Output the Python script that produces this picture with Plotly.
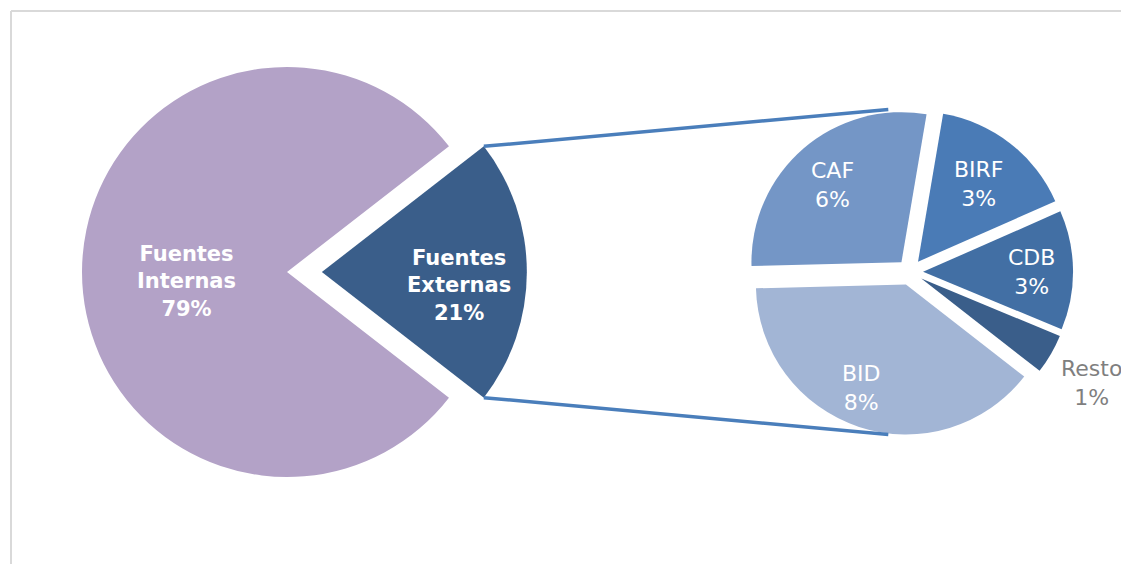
import math
import plotly.graph_objects as go

W, H = 1129, 564
OFF = 8  # page body margin offset of the rendered figure

# ---- data ----
outer_labels = ["Fuentes Externas", "Fuentes Internas"]
outer_values = [21, 79]
outer_colors = ["#3A5E8A", "#B3A2C7"]

inner_labels = ["CAF", "BIRF", "CDB", "Resto", "BID"]
inner_values = [5.9, 3.3, 2.7, 0.9, 8.2]
inner_colors = ["#7496C6", "#4A7BB6", "#426FA4", "#3A5E8A", "#A2B5D5"]

# ---- layout geometry (screen pixels) ----
L_CX, L_CY, L_R, L_PULL = 287, 272, 205, 0.17
R_CX, R_CY, R_R, R_PULL = 910, 272, 150, 0.087
R_ROT = 268.5


def px(x):
    return (x - OFF) / W


def py(y):
    return 1 - (y - OFF) / H


def domain(cx, cy, r, pull):
    half = r * (1 + pull)
    return dict(x=[px(cx - half), px(cx + half)], y=[py(cy + half), py(cy - half)])


ext_share = outer_values[0] / sum(outer_values)
l_rot = 90 - 360 * ext_share / 2

fig = go.Figure()
fig.add_trace(go.Pie(
    labels=outer_labels, values=outer_values, sort=False, direction="clockwise",
    rotation=l_rot, pull=[L_PULL, 0], domain=domain(L_CX, L_CY, L_R, L_PULL),
    marker=dict(colors=outer_colors, line=dict(width=0)),
    textinfo="none", hoverinfo="skip", showlegend=False,
))

fig.add_trace(go.Pie(
    labels=inner_labels, values=inner_values, sort=False, direction="clockwise",
    rotation=R_ROT, pull=[R_PULL] * len(inner_values),
    domain=domain(R_CX, R_CY, R_R, R_PULL),
    marker=dict(colors=inner_colors, line=dict(width=0)),
    textinfo="none", hoverinfo="skip", showlegend=False,
))


def slice_geom(values, rot):
    """Return list of (start, end) angles (deg, clockwise from 12 o'clock)."""
    tot = sum(values)
    out, a = [], rot
    for v in values:
        span = 360 * v / tot
        out.append((a, a + span))
        a += span
    return out


def polar(cx, cy, r, ang):
    t = math.radians(ang)
    return cx + r * math.sin(t), cy - r * math.cos(t)


# ---- outer labels (bold, white) ----
outer_pulls = [L_PULL, 0]
outer_lab_pos = [(0.67, 0, 13), (0.49, 0, 9)]  # (radial fraction, angle tweak, dy)
for (s, e), lab, v, pl, (fr, da, dy) in zip(slice_geom(outer_values, l_rot), outer_labels,
                                             outer_values, outer_pulls, outer_lab_pos):
    mid = (s + e) / 2
    ax, ay = polar(L_CX, L_CY, pl * L_R, mid)
    x, y = polar(ax, ay, fr * L_R, mid + da)
    fig.add_annotation(x=px(x), y=py(y + dy), xref="paper", yref="paper",
                       text=f"{lab.replace(' ', '<br>')}<br>{v:.0f}%", showarrow=False,
                       font=dict(family="DejaVu Sans", size=21, color="white", weight="bold"),
                       xanchor="center", yanchor="middle", align="center")

# ---- inner labels ----
inner_lab_pos = [(0.69, -1, 0), (0.65, 1, -2), (0.72, 2, -2), (1.33, 1.2, 0), (0.75, 5, 0)]
for (s, e), lab, v, (fr, da, dy) in zip(slice_geom(inner_values, R_ROT), inner_labels,
                                        inner_values, inner_lab_pos):
    mid = (s + e) / 2
    ax, ay = polar(R_CX, R_CY, R_PULL * R_R, mid)
    x, y = polar(ax, ay, fr * R_R, mid + da)
    col = "#7F7F7F" if lab == "Resto" else "white"
    fig.add_annotation(x=px(x), y=py(y + dy), xref="paper", yref="paper",
                       text=f"{lab}<br>{v:.0f}%", showarrow=False,
                       font=dict(family="DejaVu Sans", size=22, color=col),
                       xanchor="center", yanchor="middle", align="center")

# ---- connector lines ----
ext_s, ext_e = slice_geom(outer_values, l_rot)[0]
eax, eay = polar(L_CX, L_CY, L_PULL * L_R, (ext_s + ext_e) / 2)
ex_top = polar(eax, eay, L_R, ext_s)
ex_bot = polar(eax, eay, L_R, ext_e)
rr = R_R * (1 + R_PULL) + 1
r_top = polar(R_CX, R_CY, rr, -7.6)
r_bot = polar(R_CX, R_CY, rr, 187.6)
for p0, p1 in [(ex_top, r_top), (ex_bot, r_bot)]:
    fig.add_shape(type="line", xref="paper", yref="paper",
                  x0=px(p0[0]), y0=py(p0[1]), x1=px(p1[0]), y1=py(p1[1]),
                  line=dict(color="#4A7EBB", width=3.5))

# ---- frame lines (light gray border) ----
fig.add_shape(type="line", xref="paper", yref="paper", x0=px(11), y0=py(11), x1=1.0, y1=py(11),
              line=dict(color="#D9D9D9", width=2))
fig.add_shape(type="line", xref="paper", yref="paper", x0=px(11), y0=py(11), x1=px(11), y1=0,
              line=dict(color="#D9D9D9", width=2))

fig.update_layout(
    width=W, height=H, margin=dict(l=0, r=0, t=0, b=0),
    paper_bgcolor="white", plot_bgcolor="white",
)
fig.write_html("out.html")
